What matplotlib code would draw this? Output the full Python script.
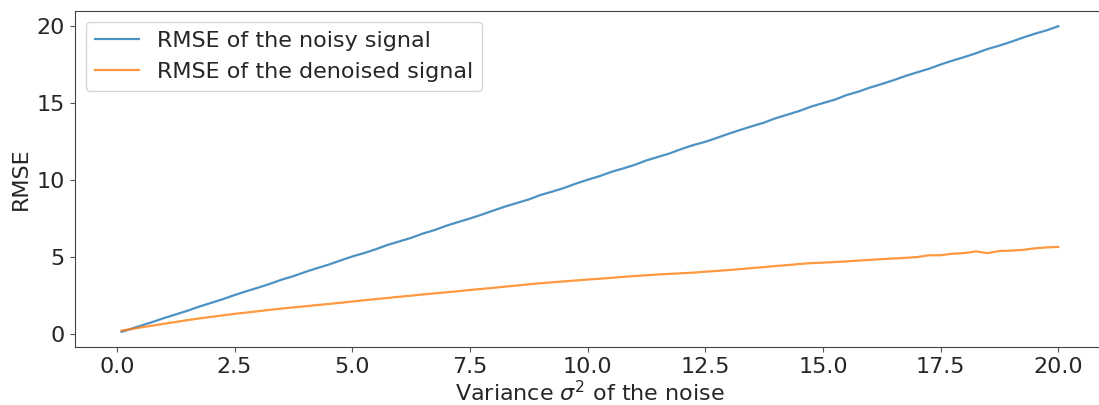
import numpy as np
import matplotlib.pyplot as plt

# noise variance grid
variance = [0.1, 0.25, 0.5, 0.75, 1.0, 1.25, 1.5, 1.75, 2.0, 2.25, 2.5, 2.75,
            3.0, 3.25, 3.5, 3.75, 4.0, 4.25, 4.5, 4.75, 5.0, 5.25, 5.5, 5.75,
            6.0, 6.25, 6.5, 6.75, 7.0, 7.25, 7.5, 7.75, 8.0, 8.25, 8.5, 8.75,
            9.0, 9.25, 9.5, 9.75, 10.0, 10.25, 10.5, 10.75, 11.0, 11.25, 11.5, 11.75,
            12.0, 12.25, 12.5, 12.75, 13.0, 13.25, 13.5, 13.75, 14.0, 14.25, 14.5, 14.75,
            15.0, 15.25, 15.5, 15.75, 16.0, 16.25, 16.5, 16.75, 17.0, 17.25, 17.5, 17.75,
            18.0, 18.25, 18.5, 18.75, 19.0, 19.25, 19.5, 19.75, 20.0]

# RMSE before denoising
rmse_noisy = [0.12, 0.26, 0.51, 0.75, 1.01, 1.25, 1.49, 1.76, 2.0, 2.24, 2.51, 2.76,
              2.99, 3.24, 3.51, 3.74, 4.01, 4.26, 4.49, 4.76, 5.02, 5.24, 5.49, 5.77,
              6.0, 6.23, 6.51, 6.74, 7.02, 7.26, 7.49, 7.74, 8.01, 8.27, 8.5, 8.73,
              9.02, 9.24, 9.48, 9.76, 10.01, 10.24, 10.52, 10.74, 10.98, 11.27, 11.5, 11.73,
              12.02, 12.27, 12.48, 12.74, 13.01, 13.26, 13.5, 13.73, 14.02, 14.25, 14.49, 14.77,
              15.0, 15.22, 15.52, 15.74, 16.01, 16.24, 16.49, 16.76, 17.0, 17.23, 17.51, 17.76,
              17.99, 18.24, 18.52, 18.74, 18.99, 19.26, 19.51, 19.73, 20.0]

# RMSE after denoising
rmse_denoised = [0.2, 0.27, 0.4, 0.52, 0.64, 0.76, 0.88, 0.99, 1.09, 1.19, 1.29, 1.37,
                 1.46, 1.55, 1.63, 1.71, 1.78, 1.86, 1.93, 2.01, 2.09, 2.17, 2.25, 2.32,
                 2.4, 2.47, 2.55, 2.62, 2.69, 2.76, 2.84, 2.91, 2.98, 3.06, 3.13, 3.21,
                 3.28, 3.34, 3.4, 3.46, 3.52, 3.57, 3.63, 3.69, 3.75, 3.8, 3.85, 3.89,
                 3.93, 3.97, 4.03, 4.08, 4.14, 4.2, 4.27, 4.33, 4.4, 4.46, 4.53, 4.59,
                 4.62, 4.66, 4.7, 4.75, 4.8, 4.85, 4.89, 4.93, 4.98, 5.1, 5.1, 5.2,
                 5.24, 5.35, 5.24, 5.38, 5.4, 5.45, 5.55, 5.61, 5.64]

plt.rcParams['text.color'] = '#262626'
plt.rcParams['axes.labelcolor'] = '#262626'
plt.rcParams['xtick.color'] = '#555555'
plt.rcParams['ytick.color'] = '#555555'
plt.rcParams['xtick.labelcolor'] = '#262626'
plt.rcParams['ytick.labelcolor'] = '#262626'

fig = plt.figure(figsize=(10.99, 4.05), dpi=100)
# the axes run a little past the right edge of the figure
ax = fig.add_axes([0.068, 0.143, 0.9376, 0.83])

ax.plot(variance, rmse_noisy, lw=1.6, alpha=0.8, label='RMSE of the noisy signal')
ax.plot(variance, rmse_denoised, lw=1.6, alpha=0.8, label='RMSE of the denoised signal')

ax.set_xlabel(r'Variance $\sigma^2$ of the noise', fontsize=16, labelpad=2)
ax.set_ylabel('RMSE', fontsize=16)
ax.tick_params(labelsize=16)
ax.set_xticks(np.arange(0, 20.1, 2.5))
for s in ax.spines.values():
    s.set_color('#444444')
ax.legend(loc='upper left', fontsize=16)

plt.savefig('out.png')
